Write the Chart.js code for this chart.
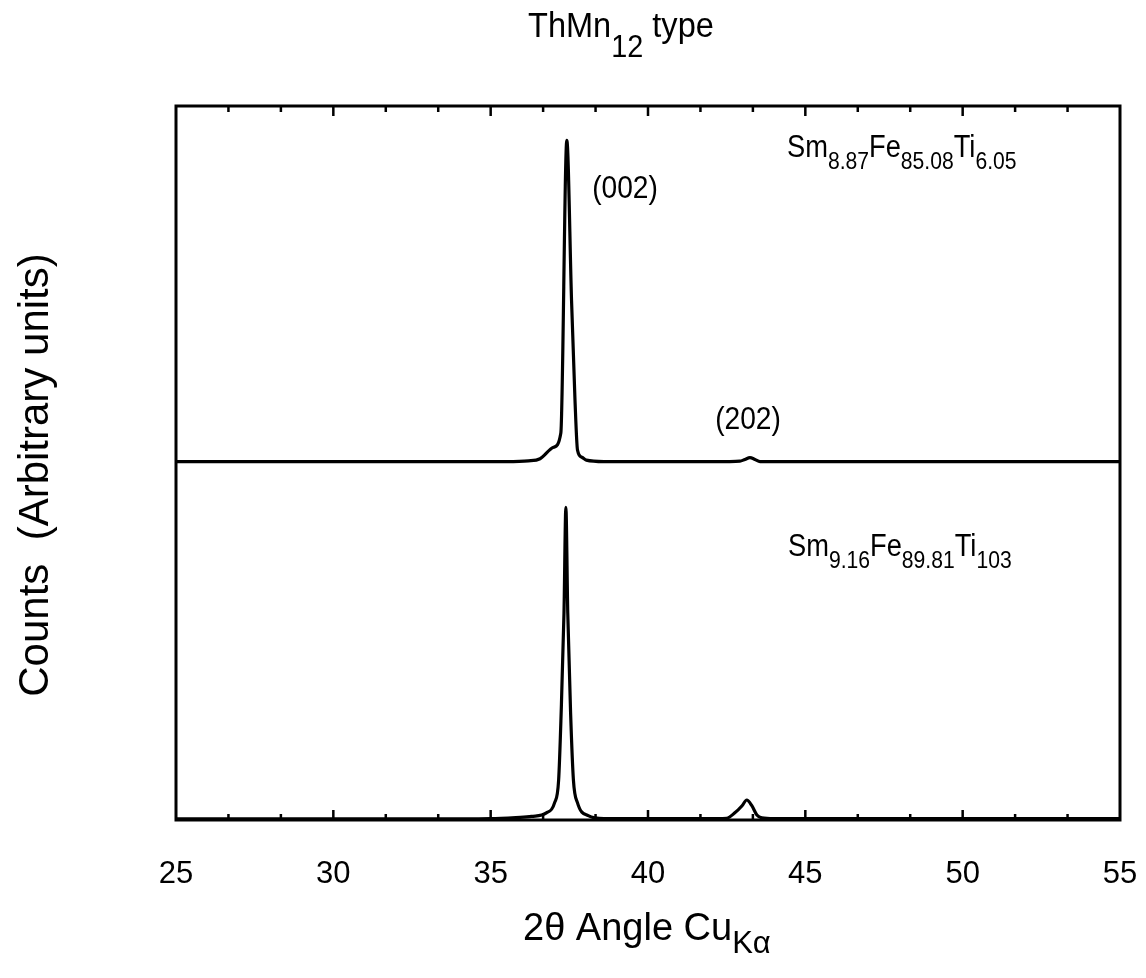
<!DOCTYPE html>
<html>
<head>
<meta charset="utf-8">
<script src="https://cdn.jsdelivr.net/npm/chart.js@4.4.1/dist/chart.umd.min.js"></script>
<style>
  html, body { margin: 0; padding: 0; background: #fff; }
  canvas { display: block; }
</style>
</head>
<body>
<canvas id="xrd" width="1146" height="978"></canvas>
<script>
// Diffraction angle 2θ (degrees) and counts (arbitrary units) for each pattern.
// The upper pattern sits on a raised baseline so both share one frame.
const topAngle = [25, 29, 33, 35.5, 36.2, 36.57, 37.0, 37.23, 37.42, 37.57, 37.68, 37.76, 37.9, 38.04, 38.6, 41, 42.6, 42.92, 43.08, 43.24, 43.4, 43.56, 44.2, 47, 51, 55];
const topCounts = [50.2, 50.2, 50.2, 50.2, 50.3, 50.6, 52.2, 54.2, 95.2, 72.8, 58.8, 51.8, 50.8, 50.4, 50.2, 50.2, 50.2, 50.25, 50.5, 50.75, 50.5, 50.2, 50.2, 50.2, 50.2, 50.2];

const bottomAngle = [25, 29, 33, 35, 35.8, 36.3, 36.77, 37.03, 37.16, 37.24, 37.33, 37.39, 37.45, 37.54, 37.63, 37.76, 38.1, 38.6, 41, 42.2, 42.5, 42.76, 42.99, 43.14, 43.3, 43.46, 43.62, 44.0, 47, 51, 55];
const bottomCounts = [0.15, 0.15, 0.15, 0.2, 0.35, 0.5, 1.0, 2.4, 5.6, 15, 29, 43.8, 29, 15, 5.6, 2.4, 0.6, 0.2, 0.2, 0.2, 0.25, 1.0, 2.0, 2.8, 2.0, 0.7, 0.3, 0.2, 0.2, 0.2, 0.2];

const xTickLabels = [25, 30, 35, 40, 45, 50, 55];
const minorStep = 5 / 3;   // spacing of the small inward tick marks

const FONT = "'Liberation Sans', Arial, Helvetica, sans-serif";

function toPoints(xs, ys) {
  return xs.map((x, i) => ({ x: x, y: ys[i] }));
}

// Draws a run of text pieces (normal and subscript) on baseline y.
// sx narrows the glyphs horizontally; align is 'left' or 'center'.
function drawRich(ctx, parts, x, y, sx, align) {
  sx = sx || 1;
  ctx.save();
  ctx.textAlign = 'left';
  ctx.textBaseline = 'alphabetic';
  ctx.fillStyle = '#000';
  let total = 0;
  for (const p of parts) {
    ctx.font = p.size + 'px ' + FONT;
    total += ctx.measureText(p.text).width;
  }
  const startX = align === 'center' ? x - total * sx / 2 : x;
  ctx.translate(startX, y);
  ctx.scale(sx, 1);
  let cx = 0;
  for (const p of parts) {
    ctx.font = p.size + 'px ' + FONT;
    ctx.fillText(p.text, cx, p.dy || 0);
    cx += ctx.measureText(p.text).width;
  }
  ctx.restore();
}

// Frame around the plot area with short inward tick marks on top and bottom.
const framePlugin = {
  id: 'frame',
  afterDatasetsDraw(chart) {
    const { ctx, chartArea: a, scales: { x } } = chart;
    ctx.save();
    ctx.strokeStyle = '#000';
    ctx.lineWidth = 3;
    ctx.strokeRect(a.left, a.top, a.right - a.left, a.bottom - a.top);
    ctx.lineWidth = 2.5;
    const n = Math.round((x.max - x.min) / minorStep);
    for (let k = 1; k < n; k++) {
      const v = x.min + k * minorStep;
      const px = x.getPixelForValue(v);
      const len = (k % 3 === 0) ? 10 : 6;
      ctx.beginPath();
      ctx.moveTo(px, a.top);
      ctx.lineTo(px, a.top + len);
      ctx.moveTo(px, a.bottom);
      ctx.lineTo(px, a.bottom - len);
      ctx.stroke();
    }
    ctx.restore();
  }
};

// Title, axis titles, reflection indices and composition labels.
const textPlugin = {
  id: 'texts',
  afterDraw(chart) {
    const ctx = chart.ctx;
    drawRich(ctx, [
      { text: 'ThMn', size: 35 },
      { text: '12', size: 31, dy: 20 },
      { text: ' type', size: 35 }
    ], 528, 37, 0.93);

    drawRich(ctx, [
      { text: '2θ Angle Cu', size: 38 },
      { text: 'Kα', size: 31, dy: 13 }
    ], 523, 940, 1);

    ctx.save();
    ctx.fillStyle = '#000';
    ctx.font = '42px ' + FONT;
    ctx.textAlign = 'center';
    ctx.textBaseline = 'middle';
    ctx.translate(36, 475);
    ctx.rotate(-Math.PI / 2);
    ctx.fillText('Counts  (Arbitrary units)', 0, 0);
    ctx.restore();

    drawRich(ctx, [{ text: '(002)', size: 32 }], 625, 198, 0.88, 'center');
    drawRich(ctx, [{ text: '(202)', size: 32 }], 748, 429, 0.88, 'center');

    drawRich(ctx, [
      { text: 'Sm', size: 31 },
      { text: '8.87', size: 24, dy: 12 },
      { text: 'Fe', size: 31 },
      { text: '85.08', size: 24, dy: 12 },
      { text: 'Ti', size: 31 },
      { text: '6.05', size: 24, dy: 12 }
    ], 787, 157, 0.88);

    drawRich(ctx, [
      { text: 'Sm', size: 31 },
      { text: '9.16', size: 24, dy: 12 },
      { text: 'Fe', size: 31 },
      { text: '89.81', size: 24, dy: 12 },
      { text: 'Ti', size: 31 },
      { text: '103', size: 24, dy: 12 }
    ], 788, 556, 0.88);
  }
};

const traceStyle = {
  borderColor: '#000',
  borderWidth: 3.2,
  pointRadius: 0,
  fill: false,
  cubicInterpolationMode: 'monotone'
};

new Chart(document.getElementById('xrd'), {
  type: 'line',
  data: {
    datasets: [
      Object.assign({ label: 'Sm8.87Fe85.08Ti6.05', data: toPoints(topAngle, topCounts) }, traceStyle),
      Object.assign({ label: 'Sm9.16Fe89.81Ti103', data: toPoints(bottomAngle, bottomCounts) }, traceStyle)
    ]
  },
  options: {
    responsive: false,
    animation: false,
    events: [],
    layout: { padding: { left: 176, right: 26, top: 106, bottom: 0 } },
    plugins: { legend: { display: false }, tooltip: { enabled: false }, title: { display: false } },
    scales: {
      x: {
        type: 'linear',
        min: xTickLabels[0],
        max: xTickLabels[xTickLabels.length - 1],
        grid: { display: false },
        border: { display: false },
        afterBuildTicks(scale) {
          scale.ticks = xTickLabels.map(v => ({ value: v }));
        },
        ticks: {
          color: '#000',
          font: { family: FONT, size: 31 },
          padding: 28,
          maxRotation: 0,
          autoSkip: false
        },
        afterFit(scale) {
          scale.height = 158;
          scale.paddingLeft = 0;
          scale.paddingRight = 0;
        }
      },
      y: { display: false, min: 0, max: 100 }
    }
  },
  plugins: [framePlugin, textPlugin]
});
</script>
</body>
</html>
